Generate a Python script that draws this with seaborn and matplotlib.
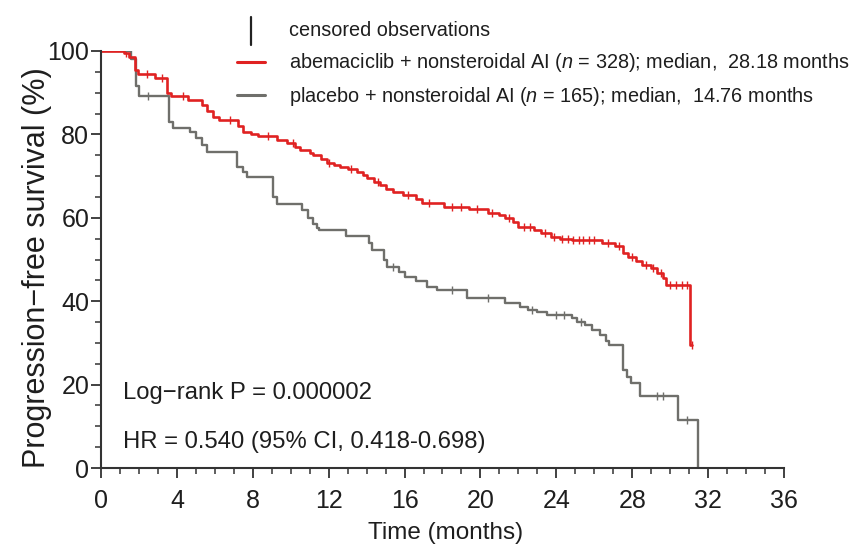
import numpy as np
import pandas as pd
import matplotlib
matplotlib.use("Agg")
import matplotlib.pyplot as plt
from matplotlib.lines import Line2D
import seaborn as sns

# Kaplan-Meier step data: time (months) and survival (%) from that time on
abema_time = [0, 1.2, 1.5, 1.8, 1.95, 2.85, 3.5, 3.7, 4.6, 5.3, 5.6, 5.9, 6.2, 7.2, 7.5,
              7.9, 8.3, 9.3, 9.8, 10.2, 10.5, 11.0, 11.2, 11.6, 11.9, 12.3, 12.6, 13.0,
              13.5, 13.8, 14.0, 14.4, 14.7, 15.0, 15.4, 15.9, 16.6, 16.9, 18.1, 19.4,
              20.4, 21.0, 21.3, 21.7, 22.0, 22.8, 23.2, 23.7, 24.2, 24.8, 26.4, 27.1,
              27.5, 27.8, 28.2, 28.5, 29.0, 29.3, 29.6, 29.8, 31.05, 31.15]
abema_surv = [100, 99.5, 98.5, 95.5, 94.6, 93.6, 90.0, 89.3, 88.2, 87.0, 85.5, 84.2, 83.5,
              82.0, 80.5, 80.0, 79.5, 78.7, 77.9, 77.0, 76.3, 75.5, 75.0, 74.0, 73.1,
              72.6, 72.2, 71.6, 71.0, 70.2, 69.5, 68.6, 67.9, 67.0, 66.2, 65.5, 64.5,
              63.5, 62.6, 62.0, 61.2, 60.6, 60.0, 59.0, 57.8, 57.0, 56.3, 55.5, 55.0,
              54.6, 54.0, 53.2, 51.6, 50.6, 49.6, 48.8, 48.0, 46.7, 45.5, 44.0, 29.5, 29.5]

placebo_time = [0, 1.6, 1.85, 2.0, 3.6, 3.8, 4.7, 5.0, 5.3, 5.6, 7.15, 7.5, 7.7, 9.05, 9.3,
                10.6, 10.9, 11.2, 11.4, 11.5, 12.9, 14.1, 14.3, 14.9, 15.1, 15.7, 16.0,
                16.6, 17.2, 17.7, 19.3, 21.3, 22.1, 22.5, 23.0, 23.5, 24.8, 25.1, 25.5,
                25.9, 26.3, 26.6, 26.8, 27.5, 27.7, 27.95, 28.4, 30.4, 31.45]
placebo_surv = [100, 98.0, 91.5, 89.2, 83.0, 81.5, 80.6, 79.2, 77.5, 75.8, 72.3, 71.0, 69.8,
                65.0, 63.2, 61.9, 60.0, 58.5, 57.5, 57.1, 55.7, 54.0, 52.3, 50.0, 48.3,
                47.0, 45.9, 44.8, 43.5, 42.7, 40.8, 39.6, 38.6, 38.0, 37.4, 36.7, 36.0,
                35.0, 34.3, 33.1, 31.9, 30.5, 29.5, 23.5, 21.8, 20.4, 17.3, 11.5, 0.0]

# Censoring times (months)
abema_censor = [1.3, 2.4, 3.2, 4.3, 6.8, 8.8, 10.1, 12.0, 13.2, 14.6, 16.2, 17.3, 18.5,
                19.0, 19.8, 20.6, 21.5, 22.3, 22.6, 23.4, 23.9, 24.3, 24.6, 24.9, 25.2,
                25.4, 25.7, 26.0, 26.7, 27.3, 28.0, 28.7, 29.1, 29.5, 30.0, 30.3, 30.6,
                30.9, 31.15]
placebo_censor = [2.5, 15.4, 18.5, 20.4, 22.7, 24.0, 24.4, 25.3, 29.3, 29.6, 30.9]

x_ticks = [0, 4, 8, 12, 16, 20, 24, 28, 32, 36]
y_ticks = [0, 20, 40, 60, 80, 100]

legend_labels = [
    "censored observations",
    r"abemaciclib + nonsteroidal AI ($\it{n}$ = 328); median,  28.18 months",
    r"placebo + nonsteroidal AI ($\it{n}$ = 165); median,  14.76 months",
]
stat_lines = ["Log\u2212rank P = 0.000002", "HR = 0.540 (95% CI, 0.418-0.698)"]

RED = "#e02222"
GREY = "#6f6f6b"
INK = "#1e1e1e"

sns.set_theme(style="ticks")
plt.rcParams["font.family"] = ["Liberation Sans", "DejaVu Sans"]
plt.rcParams["mathtext.fontset"] = "custom"
plt.rcParams["mathtext.rm"] = "Liberation Sans"
plt.rcParams["mathtext.it"] = "Liberation Sans:italic"

fig = plt.figure(figsize=(8.59, 5.56), dpi=100)
W, H = 859, 556
ax = fig.add_axes([101 / W, 1 - 468 / H, 683 / W, 417 / H])


def step_frame(t, s):
    return pd.DataFrame({"time": t, "survival": s})


def censor_frame(t, s, c):
    t = np.asarray(t)
    s = np.asarray(s)
    idx = np.searchsorted(t, c, side="right") - 1
    return pd.DataFrame({"time": c, "survival": s[idx]})


sns.lineplot(data=step_frame(placebo_time, placebo_surv), x="time", y="survival",
             estimator=None, sort=False, drawstyle="steps-post", color=GREY,
             linewidth=1.7, ax=ax)
sns.lineplot(data=step_frame(abema_time, abema_surv), x="time", y="survival",
             estimator=None, sort=False, drawstyle="steps-post", color=RED,
             linewidth=1.9, ax=ax)
sns.scatterplot(data=censor_frame(placebo_time, placebo_surv, placebo_censor),
                x="time", y="survival", marker="|", s=40, color=GREY, linewidth=1.0, ax=ax)
sns.scatterplot(data=censor_frame(abema_time, abema_surv, abema_censor),
                x="time", y="survival", marker="|", s=40, color=RED, linewidth=1.0, ax=ax)

ax.set_xlim(0, 36)
ax.set_ylim(0, 100)
ax.set_xticks(x_ticks)
ax.set_xticks(np.arange(0, 37, 1), minor=True)
ax.set_yticks(y_ticks)
ax.set_yticks(np.arange(0, 101, 5), minor=True)
ax.set_xticklabels([str(v) for v in x_ticks])
ax.set_yticklabels([str(v) for v in y_ticks])
for side in ("top", "right"):
    ax.spines[side].set_visible(False)
for side in ("left", "bottom"):
    ax.spines[side].set_color("#333333")
    ax.spines[side].set_linewidth(1.5)
ax.tick_params(axis="both", which="major", length=7, width=1.3, color="#333333",
               labelsize=18, labelcolor=INK, direction="out")
ax.tick_params(axis="both", which="minor", length=4, width=1.1, color="#333333",
               direction="out")
ax.tick_params(axis="y", which="major", pad=1.5)
ax.tick_params(axis="x", which="major", pad=8)

ax.set_xlabel("Time (months)", fontsize=17.5, color=INK, va="center")
ax.xaxis.set_label_coords(0.504, -0.156)
ax.set_ylabel("Progression\u2212free survival (%)", fontsize=22, color=INK, va="center")
ax.yaxis.set_label_coords(-0.094, 0.48)

# Statistics annotation
ax.text(1.16, 18.0, stat_lines[0], fontsize=17.2, color=INK, ha="left", va="center")
ax.text(1.16, 6.2, stat_lines[1], fontsize=17.2, color=INK, ha="left", va="center")

# Hand-placed legend above the curves
def fx(px):
    return px / W


def fy(py):
    return 1 - py / H


fig.add_artist(Line2D([fx(250.5), fx(250.5)], [fy(17), fy(45)], color="#222222", lw=1.6))
fig.add_artist(Line2D([fx(237), fx(265)], [fy(62), fy(62)], color=RED, lw=2.2))
fig.add_artist(Line2D([fx(237), fx(265)], [fy(95), fy(95)], color=GREY, lw=2.2))
for label, py in zip(legend_labels, [30, 62, 96]):
    fig.text(fx(289), fy(py), label, fontsize=14.3, color=INK, ha="left", va="center")

fig.savefig("out.png", dpi=100, facecolor="white")
